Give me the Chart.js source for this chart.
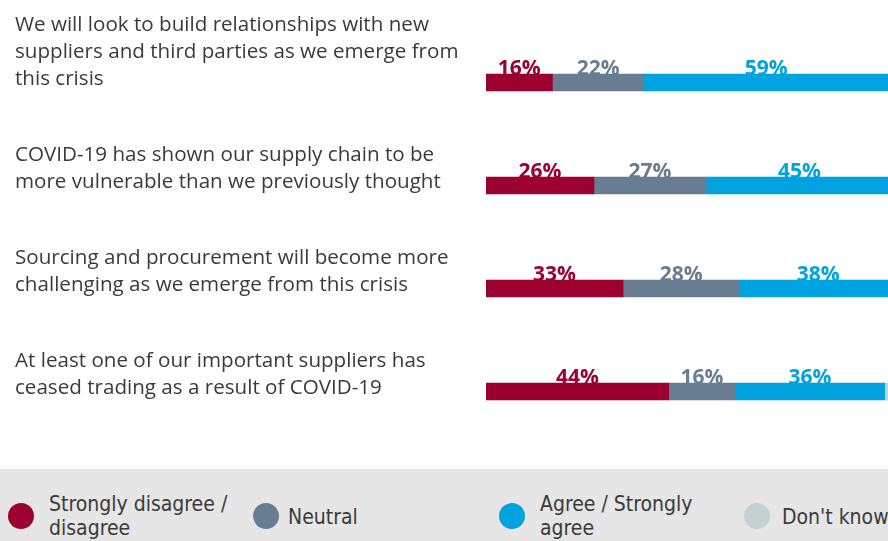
<!DOCTYPE html>
<html>
<head>
    <script src="https://cdn.jsdelivr.net/npm/chart.js"></script>
    <style>
        html, body {
            margin: 0;
            padding: 0;
            background: #fff;
        }
        .chart-container {
            width: 888px;
            height: 469px;
            position: relative;
        }
        .legend {
            width: 888px;
            height: 72px;
            background: #e6e6e6;
            position: relative;
            overflow: hidden;
            font-family: "Liberation Sans Narrow", "DejaVu Sans Condensed", sans-serif;
            font-size: 21px;
            color: #3a3a3a;
        }
        .legend .dot {
            position: absolute;
            top: 34px;
            width: 26px;
            height: 26px;
            border-radius: 50%;
        }
        .legend .txt {
            position: absolute;
            line-height: 24px;
            white-space: nowrap;
        }
    </style>
</head>
<body>
    <div class="chart-container">
        <canvas id="supplyChart"></canvas>
    </div>
    <div class="legend" id="legend"></div>
    <script>
        const categories = [
            ['We will look to build relationships with new', 'suppliers and third parties as we emerge from', 'this crisis'],
            ['COVID-19 has shown our supply chain to be', 'more vulnerable than we previously thought'],
            ['Sourcing and procurement will become more', 'challenging as we emerge from this crisis'],
            ['At least one of our important suppliers has', 'ceased trading as a result of COVID-19']
        ];
        const disagree = [16, 26, 33, 44];
        const neutral = [22, 27, 28, 16];
        const agree = [59, 45, 38, 36];
        const dontKnow = [3, 2, 1, 4];

        const seriesNames = [['Strongly disagree /', 'disagree'], ['Neutral'], ['Agree / Strongly', 'agree'], ["Don't know"]];
        const colors = ['#9b0030', '#687d91', '#00a3e0', '#c3d1d3'];

        // percentage labels sit on top of each segment, partly covered by the bar
        const valueLabels = {
            id: 'valueLabels',
            beforeDatasetsDraw(chart) {
                const ctx = chart.ctx;
                ctx.save();
                ctx.font = 'bold 21px "Open Sans", sans-serif';
                ctx.textAlign = 'center';
                ctx.textBaseline = 'alphabetic';
                chart.data.datasets.forEach((ds, i) => {
                    if (i === 3) return;
                    const meta = chart.getDatasetMeta(i);
                    ctx.fillStyle = ds.backgroundColor;
                    meta.data.forEach((bar, j) => {
                        const p = bar.getProps(['x', 'y', 'base', 'height']);
                        const cx = (p.x + p.base) / 2;
                        ctx.fillText(ds.data[j] + '%', cx, p.y - p.height / 2 + 1);
                    });
                });
                ctx.restore();
            }
        };

        const ctx = document.getElementById('supplyChart').getContext('2d');
        new Chart(ctx, {
            type: 'bar',
            data: {
                labels: categories,
                datasets: [
                    { label: 'Strongly disagree / disagree', data: disagree, backgroundColor: colors[0] },
                    { label: 'Neutral', data: neutral, backgroundColor: colors[1] },
                    { label: 'Agree / Strongly agree', data: agree, backgroundColor: colors[2] },
                    { label: "Don't know", data: dontKnow, backgroundColor: colors[3] }
                ]
            },
            options: {
                indexAxis: 'y',
                responsive: true,
                maintainAspectRatio: false,
                animation: false,
                barThickness: 17,
                layout: { padding: { left: 15, top: 31, bottom: 26, right: 0 } },
                plugins: {
                    legend: { display: false },
                    tooltip: { enabled: false }
                },
                scales: {
                    x: {
                        stacked: true,
                        display: false,
                        min: 0,
                        max: 96.8
                    },
                    y: {
                        stacked: true,
                        grid: { display: false },
                        border: { display: false },
                        afterFit(scale) {
                            scale.width = 471;
                            scale.paddingTop = 0;
                            scale.paddingBottom = 0;
                        },
                        ticks: {
                            autoSkip: false,
                            crossAlign: 'far',
                            labelOffset: -3,
                            color: '#3a3a3a',
                            font: { family: '"Open Sans", sans-serif', size: 20.6, lineHeight: 1.31 },
                            callback(value, index) {
                                const lines = categories[index];
                                // pad with blanks so the last line sits level with the bar
                                return lines.concat(new Array(lines.length - 1).fill(''));
                            }
                        }
                    }
                }
            },
            plugins: [valueLabels]
        });

        // legend below the chart
        const legendEl = document.getElementById('legend');
        const dotX = [8, 253, 499, 744];
        const textX = [49, 288, 540, 782];
        seriesNames.forEach((name, i) => {
            const dot = document.createElement('div');
            dot.className = 'dot';
            dot.style.left = dotX[i] + 'px';
            dot.style.background = colors[i];
            legendEl.appendChild(dot);
            const txt = document.createElement('div');
            txt.className = 'txt';
            txt.style.left = textX[i] + 'px';
            txt.style.top = (name.length > 1 ? 23 : 36) + 'px';
            txt.innerHTML = name.join('<br>');
            legendEl.appendChild(txt);
        });
    </script>
</body>
</html>
